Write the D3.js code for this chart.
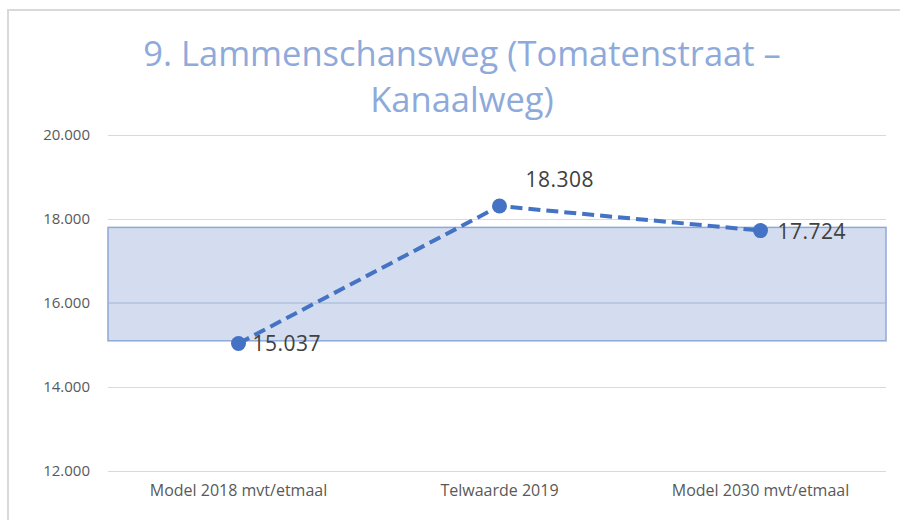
<!DOCTYPE html>
<html>
<head>
<meta charset="utf-8">
<script src="https://cdn.jsdelivr.net/npm/d3@7"></script>
<style>
  body { margin: 0; background: #fff; }
  svg { display: block; }
</style>
</head>
<body>
<svg id="chart" width="900" height="520"></svg>
<script>
// chart values
var categories = ['Model 2018 mvt/etmaal', 'Telwaarde 2019', 'Model 2030 mvt/etmaal'];
var values = [15037, 18308, 17724];
var bandRange = [15100, 17800];
var yTicks = [12000, 14000, 16000, 18000, 20000];
var titleLines = ['9. Lammenschansweg (Tomatenstraat \u2013', 'Kanaalweg)'];

var width = 900, height = 520;
var svg = d3.select('#chart');
var font = '"Open Sans", sans-serif';

// outer chart frame (cropped at right/bottom)
svg.append('rect')
  .attr('x', 8).attr('y', 10)
  .attr('width', 1000).attr('height', 600)
  .attr('fill', '#fff')
  .attr('stroke', '#d9d9d9')
  .attr('stroke-width', 2);

var plot = {left: 108, right: 891, bandRight: 886, top: 135, bottom: 471};

var x = d3.scaleBand()
  .domain(categories)
  .range([plot.left, plot.right]);

var y = d3.scaleLinear()
  .domain([12000, 20000])
  .range([plot.bottom, plot.top]);

var fmt = function (v) { return d3.format(',.0f')(v).replace(/,/g, '.'); };

// title
svg.append('g').selectAll('text')
  .data(titleLines)
  .enter().append('text')
  .attr('x', 462)
  .attr('y', function (d, i) { return 66 + i * 46; })
  .attr('text-anchor', 'middle')
  .attr('font-family', font)
  .attr('font-size', 34.5)
  .attr('fill', '#8eaadb')
  .text(function (d) { return d; });

// gridlines
var grid = svg.append('g')
  .attr('transform', 'translate(' + plot.left + ',0)')
  .call(d3.axisLeft(y).tickValues(yTicks).tickSize(-(plot.bandRight - plot.left)).tickFormat(''));
grid.select('.domain').remove();
grid.selectAll('line').attr('stroke', '#d9d9d9').attr('stroke-width', 1);

// band
svg.append('rect')
  .attr('x', plot.left)
  .attr('y', y(bandRange[1]))
  .attr('width', plot.bandRight - plot.left)
  .attr('height', y(bandRange[0]) - y(bandRange[1]))
  .attr('fill', '#d4ddef')
  .attr('stroke', '#8fa8d6')
  .attr('stroke-width', 1.5);

// gridlines through the band
svg.append('g').selectAll('line')
  .data(yTicks.filter(function (t) { return t > bandRange[0] && t < bandRange[1]; }))
  .enter().append('line')
  .attr('x1', plot.left).attr('x2', plot.bandRight)
  .attr('y1', function (d) { return y(d); })
  .attr('y2', function (d) { return y(d); })
  .attr('stroke', '#9fb2d6')
  .attr('stroke-width', 1);

// y axis labels
var yAxis = svg.append('g')
  .attr('transform', 'translate(' + (plot.left - 15) + ',0)')
  .call(d3.axisLeft(y).tickValues(yTicks).tickSize(0).tickFormat(fmt));
yAxis.select('.domain').remove();
yAxis.selectAll('text')
  .attr('font-family', font)
  .attr('font-size', 15)
  .attr('fill', '#595959');

// x axis labels
var xAxis = svg.append('g')
  .attr('transform', 'translate(0,' + (plot.bottom + 11) + ')')
  .call(d3.axisBottom(x).tickSize(0));
xAxis.select('.domain').remove();
xAxis.selectAll('text')
  .attr('font-family', font)
  .attr('font-size', 16)
  .attr('fill', '#595959');

var cx = function (d, i) { return x(categories[i]) + x.bandwidth() / 2; };

// dashed line
var line = d3.line()
  .x(function (d, i) { return cx(d, i); })
  .y(function (d) { return y(d); });

svg.append('path')
  .datum(values)
  .attr('d', line)
  .attr('fill', 'none')
  .attr('stroke', '#4472c4')
  .attr('stroke-width', 4)
  .attr('stroke-dasharray', '12,6');

svg.append('g').selectAll('circle')
  .data(values)
  .enter().append('circle')
  .attr('cx', cx)
  .attr('cy', function (d) { return y(d); })
  .attr('r', 7.5)
  .attr('fill', '#4472c4');

// data labels
var labelPos = [
  {dx: 14, dy: 8, anchor: 'start'},
  {dx: 26, dy: -19, anchor: 'start'},
  {dx: 17, dy: 8, anchor: 'start'}
];
svg.append('g').selectAll('text')
  .data(values)
  .enter().append('text')
  .attr('x', function (d, i) { return cx(d, i) + labelPos[i].dx; })
  .attr('y', function (d, i) { return y(d) + labelPos[i].dy; })
  .attr('text-anchor', function (d, i) { return labelPos[i].anchor; })
  .attr('font-family', font)
  .attr('font-size', 21)
  .attr('letter-spacing', 0.5)
  .attr('fill', '#404040')
  .text(fmt);
</script>
</body>
</html>
